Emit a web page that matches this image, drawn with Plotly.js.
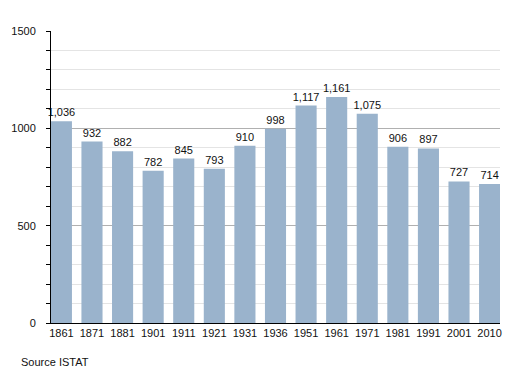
<!DOCTYPE html>
<html><head><meta charset="utf-8">
<script src="https://cdn.plot.ly/plotly-3.0.1.min.js"></script>
<style>html,body{margin:0;padding:0;background:#fff}#c{width:530px;height:373px}</style>
</head><body><div id="c"></div>
<script>
const years = ["1861","1871","1881","1901","1911","1921","1931","1936","1951","1961","1971","1981","1991","2001","2010"];
const population = [1036,932,882,782,845,793,910,998,1117,1161,1075,906,897,727,714];
const yTicks = [0,500,1000,1500];
const source = "Source ISTAT";

Plotly.newPlot('c', [{
  type: 'bar',
  x: years,
  y: population,
  marker: {color: '#9ab3cc'},
  width: 0.69,
  text: population,
  texttemplate: '%{y:,}',
  textposition: 'outside',
  textfont: {size: 11, color: '#111'},
  cliponaxis: false,
  hoverinfo: 'none'
}], {
  width: 530, height: 373,
  margin: {l: 51, r: 30, t: 31, b: 50},
  paper_bgcolor: '#fff', plot_bgcolor: '#fff',
  font: {family: 'Liberation Sans, Arial, sans-serif', size: 11, color: '#111'},
  showlegend: false,
  uniformtext: {minsize: 11, mode: 'show'},
  xaxis: {
    type: 'category',
    range: [-0.34, 14.34],
    showline: true, linecolor: '#000', linewidth: 1,
    ticks: '', showgrid: false, zeroline: false,
    tickfont: {size: 11}
  },
  yaxis: {
    range: [0, 1500],
    tickvals: yTicks,
    ticktext: yTicks.map(String),
    showline: true, linecolor: '#000', linewidth: 1,
    ticks: 'outside', ticklen: 4, tickcolor: '#000',
    showgrid: true, gridcolor: '#b0b0b0', gridwidth: 1,
    zeroline: false,
    ticklabelstandoff: 8,
    minor: {dtick: 100, ticks: 'outside', ticklen: 4, tickcolor: '#000', showgrid: true, gridcolor: '#e4e4e4', gridwidth: 1}
  },
  annotations: [{
    text: source, xref: 'paper', yref: 'paper',
    x: -51/449, xshift: 19, y: 0, yshift: -39,
    xanchor: 'left', yanchor: 'middle', showarrow: false,
    font: {size: 11, color: '#111'}
  }]
}, {staticPlot: true});
</script></body></html>
